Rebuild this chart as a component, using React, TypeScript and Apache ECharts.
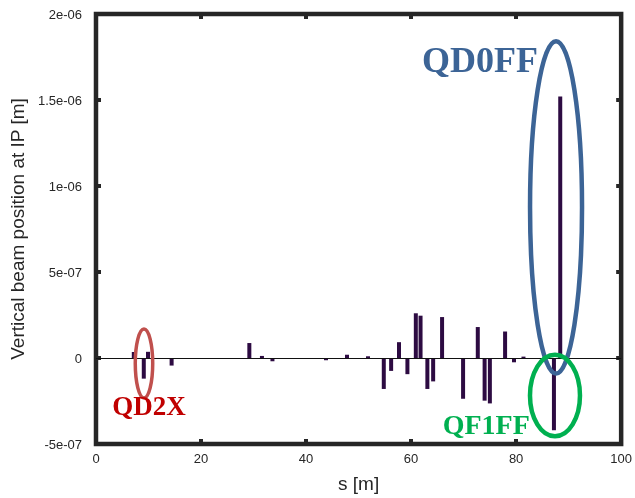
import React, { useEffect, useRef } from "react";
import * as echarts from "echarts";

// s positions [m] of the correctors / magnets
const positions = [7.2, 9.1, 9.9, 14.4, 29.2, 31.6, 33.6, 43.8, 47.8, 51.8, 54.8, 56.2, 57.7, 59.3, 60.9, 61.8, 63.1, 64.2, 65.9, 69.9, 72.7, 74.0, 75.0, 77.9, 79.6, 81.4, 87.2, 88.4];
// vertical beam position at IP [m]
const offsets = [3.5e-8, -1.2e-7, 3.6e-8, -4.4e-8, 8.7e-8, 1.2e-8, -1.9e-8, -1.3e-8, 1.9e-8, 1e-8, -1.8e-7, -7.5e-8, 9.2e-8, -9.4e-8, 2.6e-7, 2.46e-7, -1.8e-7, -1.36e-7, 2.38e-7, -2.37e-7, 1.8e-7, -2.48e-7, -2.64e-7, 1.54e-7, -2.5e-8, 8e-9, -4.2e-7, 1.52e-6];

const xTicks = [0, 20, 40, 60, 80, 100];
const yTicks = [-5e-7, 0, 5e-7, 1e-6, 1.5e-6, 2e-6];

// annotation labels
const annotationNames = ["QD2X", "QD0FF", "QF1FF"];

const fmtY = (v: number) => {
  if (Math.abs(v) < 1e-12) return "0";
  const e = Number(v.toPrecision(6)).toExponential();
  return e.replace(/e([+-])(\d)$/, "e$10$2");
};

export default function App() {
  const ref = useRef<HTMLDivElement>(null);
  useEffect(() => {
    if (!ref.current) return;
    const chart = echarts.init(ref.current, null, { renderer: "svg" });
    const labelStyle = { color: "#262626", fontSize: 13, fontFamily: "Liberation Sans" };
    const tick = { show: true, inside: true, length: 5, lineStyle: { color: "#262626", width: 4 } };
    const noLine = { show: false, onZero: false };
    const nameStyle = { color: "#262626", fontSize: 19, fontFamily: "Liberation Sans" };
    const xCommon = { type: "value" as const, min: xTicks[0], max: xTicks[xTicks.length - 1], interval: 20 };
    const yCommon = { type: "value" as const, min: yTicks[0], max: yTicks[yTicks.length - 1], interval: 5e-7 };
    chart.setOption({
      animation: false,
      grid: { left: 95, right: 12.5, top: 14, bottom: 50, show: true, borderColor: "#262626", borderWidth: 4.5, backgroundColor: "transparent" },
      xAxis: [
        {
          ...xCommon,
          position: "bottom",
          axisLine: noLine,
          axisTick: tick,
          splitLine: { show: false },
          axisLabel: { ...labelStyle, margin: 8 },
          name: "s [m]",
          nameLocation: "middle",
          nameGap: 30,
          nameTextStyle: nameStyle,
        },
        { ...xCommon, position: "top", axisLine: noLine, axisTick: tick, splitLine: { show: false }, axisLabel: { show: false } },
      ],
      yAxis: [
        {
          ...yCommon,
          position: "left",
          axisLine: noLine,
          axisTick: tick,
          splitLine: { show: false },
          axisLabel: { ...labelStyle, margin: 14, formatter: fmtY },
          name: "Vertical beam position at IP [m]",
          nameLocation: "middle",
          nameGap: 58,
          nameTextStyle: nameStyle,
        },
        { ...yCommon, position: "right", axisLine: noLine, axisTick: tick, splitLine: { show: false }, axisLabel: { show: false } },
      ],
      series: [
        {
          type: "bar",
          xAxisIndex: 0,
          yAxisIndex: 0,
          barWidth: 4,
          itemStyle: { color: "#2d0b42" },
          data: positions.map((s, i) => [s, offsets[i]]),
          markLine: {
            silent: true,
            symbol: "none",
            label: { show: false },
            lineStyle: { color: "#111", width: 1, type: "solid" },
            data: [{ yAxis: 0 }],
          },
        },
      ],
    });

    const px = (s: number, v: number) => chart.convertToPixel({ gridIndex: 0 }, [s, v]) as number[];
    const ell = (s: number, v: number, ds: number, dv: number, stroke: string, w: number) => {
      const c = px(s, v);
      const e = px(s + ds, v + dv);
      return { type: "ellipse", z: 100, shape: { cx: c[0], cy: c[1], rx: Math.abs(e[0] - c[0]), ry: Math.abs(e[1] - c[1]) }, style: { fill: "none", stroke, lineWidth: w } };
    };
    const txt = (s: number, v: number, text: string, size: number, fill: string) => {
      const c = px(s, v);
      return { type: "text", z: 101, x: c[0], y: c[1], style: { text, font: `bold ${size}px "Liberation Serif"`, fill, align: "center", verticalAlign: "middle" } };
    };
    chart.setOption({
      graphic: [
        ell(9.14, -3.2e-8, 1.66, 2.0e-7, "#c0504d", 3.5),
        ell(87.6, 8.76e-7, 4.95, 9.66e-7, "#3c6496", 4.5),
        ell(87.4, -2.18e-7, 4.76, 2.37e-7, "#00b050", 4.5),
        txt(10.1, -2.8e-7, annotationNames[0], 27, "#c00000"),
        txt(73.1, 1.73e-6, annotationNames[1], 36, "#3c6496"),
        txt(74.3, -3.85e-7, annotationNames[2], 28, "#00b050"),
      ],
    });
    return () => chart.dispose();
  }, []);
  return <div ref={ref} style={{ position: "fixed", left: 0, top: 0, width: 635, height: 498 }} />;
}
